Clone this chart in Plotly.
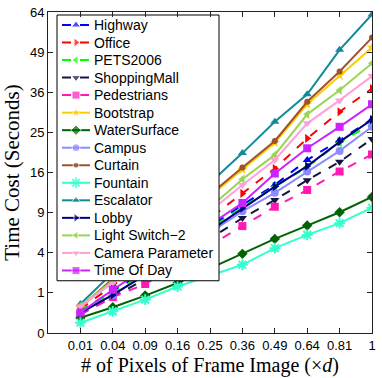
import numpy as np
import plotly.graph_objects as go

# x positions: fraction of frame pixels (shown on a sqrt scale)
x_ratio = [0.01, 0.04, 0.09, 0.16, 0.25, 0.36, 0.49, 0.64, 0.81, 1.0]
x_ticks = ["0.01", "0.04", "0.09", "0.16", "0.25", "0.36", "0.49", "0.64", "0.81", "1"]
y_ticks = [0, 1, 4, 9, 16, 25, 36, 49, 64]

# time cost in seconds
highway       = [0.30, 1.10, 2.40, 4.40, 7.00, 10.2, 13.6, 18.6, 23.1, 28.4]
office        = [0.36, 1.40, 3.00, 5.20, 8.20, 12.1, 16.8, 23.5, 30.4, 37.1]
pets2006      = [0.30, 1.00, 2.25, 4.20, 6.80, 9.80, 13.3, 17.1, 22.5, 27.2]
shopping_mall = [0.23, 0.80, 1.80, 3.40, 5.50, 8.20, 11.0, 14.5, 18.2, 23.4]
pedestrians   = [0.21, 0.80, 1.49, 2.90, 4.80, 7.10, 9.90, 12.7, 16.2, 19.8]
bootstrap     = [0.40, 1.75, 4.00, 7.30, 11.6, 16.6, 22.5, 32.5, 41.2, 50.6]
water_surface = [0.145, 0.41, 0.87, 1.55, 2.60, 3.89, 5.50, 7.17, 9.06, 11.5]
campus        = [0.27, 0.90, 2.10, 3.90, 6.25, 9.20, 12.2, 16.2, 20.6, 26.4]
curtain       = [0.42, 1.82, 4.20, 7.56, 11.9, 17.0, 22.9, 33.2, 42.5, 54.2]
fountain      = [0.066, 0.29, 0.69, 1.34, 2.05, 2.89, 4.47, 5.98, 7.49, 9.75]
escalator     = [0.52, 2.25, 5.06, 9.00, 14.1, 20.1, 27.7, 35.4, 49.8, 63.0]
lobby         = [0.25, 0.90, 2.10, 4.00, 6.50, 9.67, 13.3, 17.3, 22.7, 28.3]
light_switch  = [0.46, 1.70, 3.60, 6.20, 9.80, 14.7, 19.7, 29.7, 36.6, 45.2]
camera_param  = [0.44, 1.60, 3.40, 5.80, 9.20, 13.6, 18.6, 27.3, 33.6, 41.0]
time_of_day   = [0.26, 1.16, 2.60, 4.60, 7.30, 10.5, 15.8, 21.2, 26.4, 32.5]

# name, values, colour, dash, marker
series = [
    ("Highway", highway, "#0000ff", "dash", "triangle-up"),
    ("Office", office, "#ff0000", "dash", "triangle-right"),
    ("PETS2006", pets2006, "#00ff00", "dash", "triangle-left"),
    ("ShoppingMall", shopping_mall, "#141440", "dash", "triangle-down"),
    ("Pedestrians", pedestrians, "#ff1ab3", "dash", "square"),
    ("Bootstrap", bootstrap, "#ffcc00", "solid", "star"),
    ("WaterSurface", water_surface, "#006400", "solid", "diamond"),
    ("Campus", campus, "#8c8cff", "solid", "circle"),
    ("Curtain", curtain, "#a0522d", "solid", "circle"),
    ("Fountain", fountain, "#33ffcc", "solid", "asterisk"),
    ("Escalator", escalator, "#138a9a", "solid", "triangle-up"),
    ("Lobby", lobby, "#000080", "solid", "triangle-right"),
    ("Light Switch\u22122", light_switch, "#99d555", "solid", "triangle-left"),
    ("Camera Parameter", camera_param, "#ffa0d8", "solid", "triangle-down"),
    ("Time Of Day", time_of_day, "#cc22ff", "solid", "square"),
]

xs = np.sqrt(x_ratio)


def marker_style(name, sym, color, size=8):
    mk = dict(symbol=sym, size=size, color=color)
    if sym == "asterisk":
        mk.update(size=size + 1, line=dict(color=color, width=2))
    if name == "Curtain":
        mk["size"] = size - 2
    return mk


fig = go.Figure()
for name, vals, color, dash, sym in series:
    fig.add_trace(go.Scatter(
        x=xs, y=np.sqrt(vals), name=name, mode="lines+markers",
        line=dict(color=color, width=2, dash=dash),
        marker=marker_style(name, sym, color),
        showlegend=False,
    ))

# ── hand-drawn MATLAB-style legend on an overlay axis in pixel units ──
LEG_L, LEG_R, LEG_T, LEG_B = 57, 219, 15, 281
ROW0, ROW_STEP = 25, 17.55
fig.add_trace(go.Scatter(
    x=[LEG_L, LEG_R, LEG_R, LEG_L, LEG_L], y=[LEG_T, LEG_T, LEG_B, LEG_B, LEG_T],
    xaxis="x2", yaxis="y2", mode="lines", fill="toself", fillcolor="white",
    line=dict(color="#000", width=1), hoverinfo="skip", showlegend=False,
))
for i, (name, vals, color, dash, sym) in enumerate(series):
    yy = ROW0 + i * ROW_STEP
    mk = marker_style(name, sym, color)
    mk["size"] = [0, mk["size"], 0]
    fig.add_trace(go.Scatter(
        x=[62, 76, 90], y=[yy, yy, yy], xaxis="x2", yaxis="y2",
        mode="lines+markers", line=dict(color=color, width=2, dash=dash),
        marker=mk, hoverinfo="skip", showlegend=False,
    ))
    fig.add_annotation(
        x=92, y=yy, xref="x2", yref="y2", text=name, showarrow=False,
        xanchor="left", yanchor="middle",
        font=dict(family="Liberation Sans, Arial, sans-serif", size=14, color="#000"),
    )

axis_common = dict(
    showgrid=False, zeroline=False, automargin=False,
    showline=True, linecolor="#222", linewidth=1, mirror="ticks",
    ticks="inside", ticklen=5, tickcolor="#222",
    tickfont=dict(family="Liberation Sans, Arial, sans-serif", size=13, color="#000"),
)

fig.update_layout(
    width=382, height=378,
    paper_bgcolor="white", plot_bgcolor="white",
    margin=dict(l=48, r=10, t=12, b=45),
    showlegend=False,
    xaxis=dict(
        axis_common, range=[0, 1],
        tickvals=xs, ticktext=x_ticks,
        title=dict(text="# of Pixels of Frame Image (\u00d7<i>d</i>)",
                   font=dict(family="Liberation Serif, serif", size=20, color="#000"),
                   standoff=6),
    ),
    yaxis=dict(
        axis_common, range=[0, 8],
        tickvals=np.sqrt(y_ticks), ticktext=[str(t) for t in y_ticks],
        title=dict(text="Time Cost (Seconds)",
                   font=dict(family="Liberation Serif, serif", size=21, color="#000"),
                   standoff=4),
    ),
    xaxis2=dict(overlaying="x", range=[48, 372], visible=False, fixedrange=True),
    yaxis2=dict(overlaying="y", range=[333.3, 12], visible=False, fixedrange=True),
)

fig.write_html("out.html", config={"displayModeBar": False},
               post_script="document.body.style.margin='0';")
